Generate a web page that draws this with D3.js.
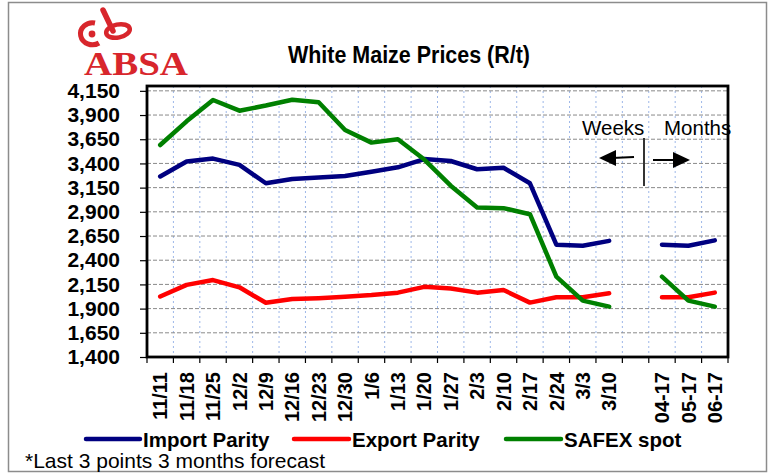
<!doctype html>
<html>
<head>
<meta charset="utf-8">
<title>White Maize Prices</title>
<script src="https://cdn.jsdelivr.net/npm/d3@7"></script>
<style>
  html, body { margin: 0; padding: 0; background: #fff; }
  svg { display: block; font-family: "Liberation Sans", Arial, sans-serif; }
</style>
</head>
<body>
<div id="chart"></div>
<script>
  // categories: 18 weekly points, one empty slot, 3 monthly forecasts
  const dates = ['11/11', '11/18', '11/25', '12/2', '12/9', '12/16', '12/23', '12/30', '1/6', '1/13',
    '1/20', '1/27', '2/3', '2/10', '2/17', '2/24', '3/3', '3/10', '', '04-17', '05-17', '06-17'];

  const importParity = [3265, 3420, 3450, 3385, 3195, 3240, 3255, 3270, 3315, 3360,
    3445, 3425, 3340, 3355, 3195, 2560, 2550, 2600, null, 2560, 2550, 2605];
  const exportParity = [2025, 2145, 2195, 2120, 1960, 2000, 2008, 2022, 2040, 2065,
    2125, 2108, 2065, 2092, 1962, 2018, 2018, 2058, null, 2018, 2018, 2065];
  const safexSpot = [3590, 3835, 4055, 3945, 3998, 4058, 4032, 3745, 3615, 3650,
    3440, 3170, 2945, 2938, 2875, 2230, 1982, 1920, null, 2230, 1982, 1920];

  const yTicks = [1400, 1650, 1900, 2150, 2400, 2650, 2900, 3150, 3400, 3650, 3900, 4150];

  const series = [
    { name: 'Import Parity', values: importParity, color: '#000080' },
    { name: 'Export Parity', values: exportParity, color: '#ff0000' },
    { name: 'SAFEX spot', values: safexSpot, color: '#008000' }
  ];

  const W = 770, H = 473;
  const plot = { left: 147, right: 728, top: 86, bottom: 357 };

  const svg = d3.select('#chart').append('svg')
    .attr('width', W)
    .attr('height', H);

  // outer frame
  svg.append('rect')
    .attr('x', 8.5).attr('y', 2.5)
    .attr('width', 758).attr('height', 469)
    .attr('fill', '#fff')
    .attr('stroke', '#8c8c8c')
    .attr('stroke-width', 1.5);

  const x = d3.scaleBand()
    .domain(d3.range(dates.length))
    .range([plot.left, plot.right]);

  const y = d3.scaleLinear()
    .domain([1400, 4200])
    .range([plot.bottom, plot.top]);

  // vertical gridlines at category boundaries
  svg.append('g')
    .selectAll('line')
    .data(d3.range(1, dates.length))
    .join('line')
    .attr('x1', i => x(i)).attr('x2', i => x(i))
    .attr('y1', plot.top).attr('y2', plot.bottom)
    .attr('stroke', '#9db7e8')
    .attr('stroke-width', 1)
    .attr('stroke-dasharray', '2,3');

  // horizontal gridlines
  svg.append('g')
    .selectAll('line')
    .data(yTicks.slice(1))
    .join('line')
    .attr('x1', plot.left).attr('x2', plot.right)
    .attr('y1', d => y(d)).attr('y2', d => y(d))
    .attr('stroke', '#8a8a8a')
    .attr('stroke-width', 1)
    .attr('stroke-dasharray', '4,2');

  // y axis
  const yAxis = svg.append('g')
    .attr('transform', `translate(${plot.left},0)`)
    .call(d3.axisLeft(y).tickValues(yTicks).tickSize(7).tickPadding(20).tickFormat(d3.format(',')));
  yAxis.select('.domain').remove();
  yAxis.selectAll('.tick line').attr('stroke', '#000').attr('stroke-width', 1.2);
  yAxis.selectAll('.tick text')
    .attr('fill', '#000')
    .style('font-size', '21px')
    .style('font-weight', 'bold')
    .style('font-family', '"Liberation Sans", Arial, sans-serif');

  // x ticks at band boundaries
  svg.append('g')
    .selectAll('line')
    .data(d3.range(0, dates.length + 1))
    .join('line')
    .attr('x1', i => plot.left + i * x.bandwidth())
    .attr('x2', i => plot.left + i * x.bandwidth())
    .attr('y1', plot.bottom).attr('y2', plot.bottom + 6)
    .attr('stroke', '#000')
    .attr('stroke-width', 1.2);

  // x labels, rotated
  svg.append('g')
    .selectAll('text')
    .data(dates.map((d, i) => ({ d, i })).filter(o => o.d !== ''))
    .join('text')
    .attr('transform', o => `translate(${x(o.i) + x.bandwidth() / 2},372) rotate(-90)`)
    .attr('text-anchor', 'end')
    .attr('dy', '0.36em')
    .style('font-size', '20px')
    .style('font-weight', 'bold')
    .text(o => o.d);

  // plot border
  svg.append('rect')
    .attr('x', plot.left).attr('y', plot.top)
    .attr('width', plot.right - plot.left)
    .attr('height', plot.bottom - plot.top)
    .attr('fill', 'none')
    .attr('stroke', '#000')
    .attr('stroke-width', 2.8);

  // lines
  const line = d3.line()
    .defined(d => d != null)
    .x((d, i) => x(i) + x.bandwidth() / 2)
    .y(d => y(d));

  svg.append('g')
    .selectAll('path')
    .data(series)
    .join('path')
    .attr('d', s => line(s.values))
    .attr('fill', 'none')
    .attr('stroke', s => s.color)
    .attr('stroke-width', 4.5)
    .attr('stroke-linejoin', 'round')
    .attr('stroke-linecap', 'round');

  // weeks / months annotation
  const ann = svg.append('g');
  ann.append('text').attr('x', 582).attr('y', 135)
    .style('font-size', '20.5px').text('Weeks');
  ann.append('text').attr('x', 664).attr('y', 135)
    .style('font-size', '20.5px').text('Months');
  ann.append('line')
    .attr('x1', 644).attr('x2', 644).attr('y1', 138).attr('y2', 186)
    .attr('stroke', '#000').attr('stroke-width', 1.6);
  ann.append('line')
    .attr('x1', 634).attr('x2', 612).attr('y1', 157).attr('y2', 158)
    .attr('stroke', '#000').attr('stroke-width', 2);
  ann.append('path')
    .attr('d', 'M599,158 L616,150 L616,166 Z').attr('fill', '#000');
  ann.append('line')
    .attr('x1', 653).attr('x2', 676).attr('y1', 160).attr('y2', 160)
    .attr('stroke', '#000').attr('stroke-width', 2);
  ann.append('path')
    .attr('d', 'M690,160 L673,152 L673,168 Z').attr('fill', '#000');

  // title
  svg.append('text')
    .attr('x', 409).attr('y', 63)
    .attr('text-anchor', 'middle')
    .attr('textLength', 242)
    .attr('lengthAdjust', 'spacingAndGlyphs')
    .style('font-size', '23px')
    .style('font-weight', 'bold')
    .text('White Maize Prices (R/t)');

  // logo
  const logoRed = '#d8262c';
  const logo = svg.append('g');
  logo.append('path')
    .attr('d', 'M95,23 A12,11 0 1 0 99,43')
    .attr('fill', 'none').attr('stroke', logoRed).attr('stroke-width', 5);
  logo.append('circle').attr('cx', 92).attr('cy', 34).attr('r', 3.4).attr('fill', logoRed);
  logo.append('line')
    .attr('x1', 103).attr('y1', 10).attr('x2', 113).attr('y2', 31)
    .attr('stroke', logoRed).attr('stroke-width', 5.5).attr('stroke-linecap', 'round');
  logo.append('ellipse')
    .attr('cx', 118).attr('cy', 31).attr('rx', 12).attr('ry', 6.5)
    .attr('transform', 'rotate(-12,118,31)')
    .attr('fill', 'none').attr('stroke', logoRed).attr('stroke-width', 4.5);
  logo.append('text')
    .attr('x', 84).attr('y', 75)
    .attr('textLength', 104)
    .attr('lengthAdjust', 'spacingAndGlyphs')
    .style('font-family', '"Liberation Serif", "DejaVu Serif", serif')
    .style('font-size', '33px')
    .style('font-weight', 'bold')
    .attr('fill', logoRed)
    .text('ABSA');

  // legend
  const legendItems = [
    { s: series[0], x0: 86, x1: 140, tx: 143 },
    { s: series[1], x0: 294, x1: 349, tx: 352 },
    { s: series[2], x0: 506, x1: 561, tx: 564 }
  ];
  const legend = svg.append('g');
  legendItems.forEach(it => {
    legend.append('line')
      .attr('x1', it.x0).attr('x2', it.x1).attr('y1', 439).attr('y2', 439)
      .attr('stroke', it.s.color).attr('stroke-width', 4.5).attr('stroke-linecap', 'round');
    legend.append('text')
      .attr('x', it.tx).attr('y', 447)
      .style('font-size', '20.5px')
      .style('font-weight', 'bold')
      .text(it.s.name);
  });

  // footnote
  svg.append('text')
    .attr('x', 25).attr('y', 468)
    .style('font-size', '21px')
    .text('*Last 3 points 3 months forecast');
</script>
</body>
</html>
